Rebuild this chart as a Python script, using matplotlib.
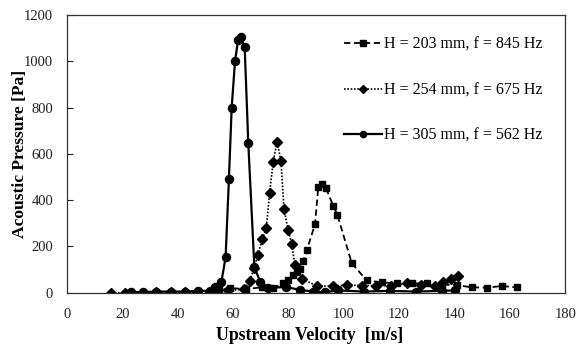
import matplotlib
matplotlib.use("Agg")
import matplotlib.pyplot as plt

plt.rcParams['font.family'] = ['Liberation Serif', 'DejaVu Serif']

# H = 203 mm, f = 845 Hz (squares, dashed)
x203 = [53, 55, 58.8, 64.5, 70.3, 74.5, 78, 80, 81.7, 83, 84, 85.4, 86.6, 89.6, 90.8, 92.2, 93.6,
        96.2, 97.7, 102.9, 108.3, 113.7, 119.1, 124.6, 130, 135.5, 140.8, 146.3, 151.7, 157.1, 162.5]
y203 = [5, 10, 20, 16, 23, 20, 40, 55, 76, 91, 101, 138, 183, 295, 458, 470, 451,
        375, 336, 127, 53, 45, 40, 40, 40, 35, 33, 23, 22, 29, 23]

# H = 254 mm, f = 675 Hz (diamonds, dotted)
x254 = [16, 21, 23, 27.5, 32, 37.5, 42.5, 47, 51.5, 54, 58, 64, 66, 67.5, 69, 70.5, 72, 73.2, 74.5,
        75.9, 77.3, 78.4, 79.9, 81.2, 82.3, 85, 90.5, 96, 101.3, 106.5, 111.7, 117, 122.7, 128,
        133, 136, 138.8, 141.2]
y254 = [0, 0, 0, 0, 3, 3, 3, 3, 5, 8, 10, 15, 50, 105, 163, 232, 278, 432, 566,
        653, 569, 362, 271, 210, 120, 58, 29, 29, 33, 31, 31, 30, 40, 35,
        29, 48, 60, 72]

# H = 305 mm, f = 562 Hz (circles, solid)
x305 = [23, 27.5, 32.3, 37.7, 42.6, 47.4, 51.6, 53.4, 55.8, 57.3, 58.5, 59.5, 60.7, 61.8, 62.8,
        64.2, 65.5, 67.7, 69.8, 72.7, 79, 84.2, 89, 93.2, 98, 107.4, 116.7, 126, 135.4, 140.2]
y305 = [3, 3, 5, 5, 5, 8, 8, 26, 48, 153, 491, 800, 1000, 1090, 1105,
        1060, 645, 110, 48, 20, 25, 12, 5, 2, 10, 5, 8, 5, 8, 10]

labels = ["H = 203 mm, f = 845 Hz", "H = 254 mm, f = 675 Hz", "H = 305 mm, f = 562 Hz"]
xticks = [0, 20, 40, 60, 80, 100, 120, 140, 160, 180]
yticks = [0, 200, 400, 600, 800, 1000, 1200]

fig = plt.figure(figsize=(5.76, 3.46), dpi=100)
ax = fig.add_axes([0.1163, 0.154, 0.865, 0.8026])

ax.plot(x203, y203, color='black', linestyle=(0, (3.5, 2)), linewidth=1.3,
        marker='s', markersize=5, label=labels[0])
ax.plot(x254, y254, color='black', linestyle=(0, (1, 1)), linewidth=1.2,
        marker='D', markersize=4.8, label=labels[1])
ax.plot(x305, y305, color='black', linestyle='-', linewidth=1.6,
        marker='o', markersize=5.8, label=labels[2])

ax.set_xlim(0, 180)
ax.set_ylim(0, 1200)
ax.set_xticks(xticks)
ax.set_yticks(yticks)
ax.tick_params(axis='both', direction='in', labelsize=10.5, length=4, width=0.8,
               colors='#222222', labelcolor='#222222')
ax.tick_params(axis='y', pad=10)
ax.tick_params(axis='x', length=0, pad=11)
for s in ax.spines.values():
    s.set_color('#333333')
    s.set_linewidth(0.9)

ax.set_xlabel("Upstream Velocity  [m/s]", fontsize=12.8, fontweight='bold', labelpad=4)
ax.xaxis.label.set_x(0.487)
ax.set_ylabel("Acoustic Pressure [Pa]", fontsize=12.6, fontweight='bold')
ax.yaxis.set_label_coords(-0.079, 0.5)

leg = ax.legend(loc='upper right', frameon=False, fontsize=11.5, handlelength=2.4,
                handletextpad=0.1, labelspacing=1.85, numpoints=1,
                bbox_to_anchor=(0.967, 0.944), borderaxespad=0)
for h in leg.legend_handles:
    h.set_markersize(4.5)

fig.savefig("out.png", dpi=100)
